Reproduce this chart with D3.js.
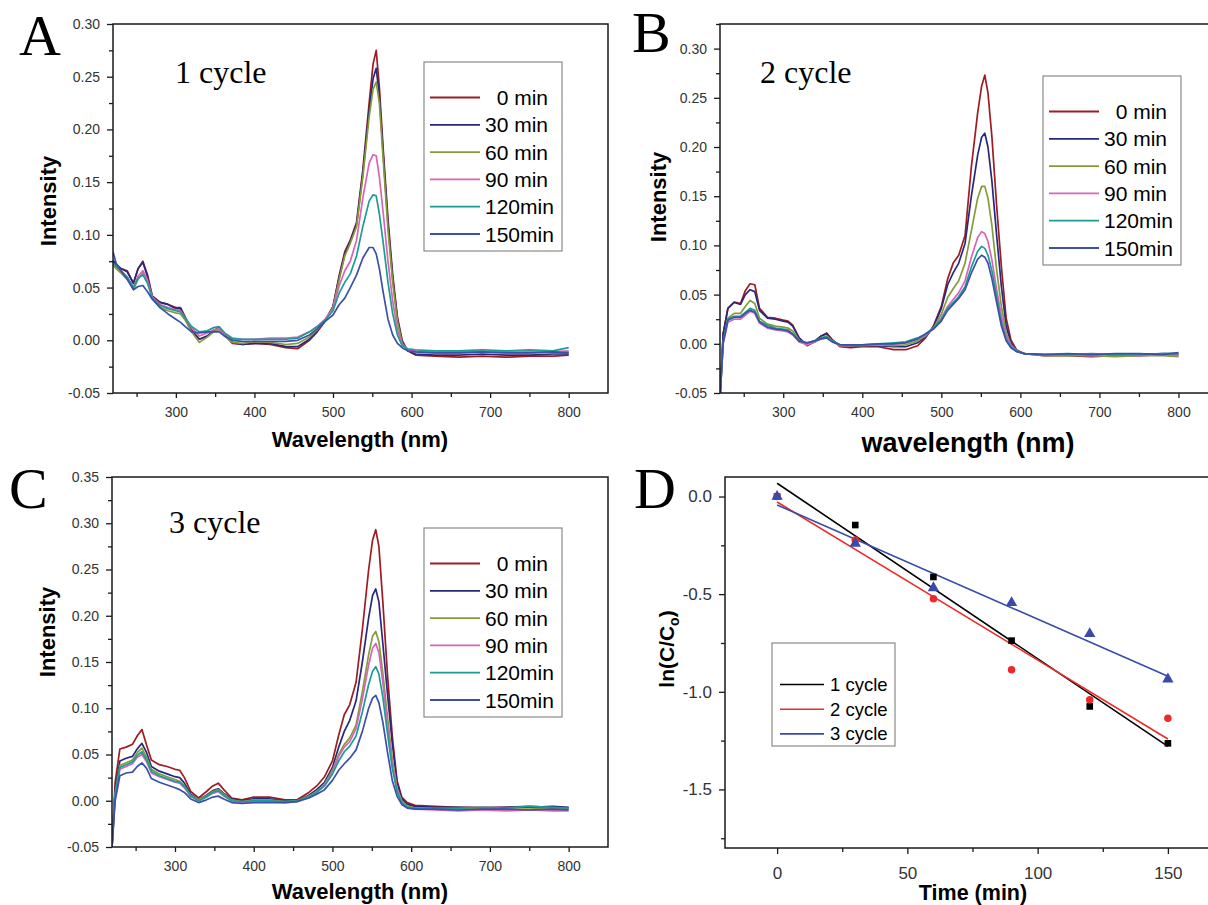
<!DOCTYPE html>
<html>
<head>
<meta charset="utf-8">
<script src="https://cdn.jsdelivr.net/npm/d3@7"></script>
<style>
body { margin: 0; background: #fff; }
svg { display: block; }
</style>
</head>
<body>
<script>
// ---- data ----
var wavelength = [220, 224, 230, 238, 246, 252, 258, 264, 270, 280, 290, 300, 306, 312, 320, 330, 340, 348, 355, 362,
  372, 385, 400, 420, 440, 455, 470, 480, 490, 500, 508, 515, 522, 530, 538, 546, 551, 555, 559, 564,
  570, 576, 582, 588, 595, 605, 630, 660, 690, 720, 750, 780, 800];

var timeLabels = ["  0 min", "30 min", "60 min", "90 min", "120min", "150min"];
var timeColors = ["#9e1c22", "#27297d", "#849b3a", "#d864b8", "#1b9c96", "#3c50a8"];

// cycle 1 (panel A)
var c1_0 = [0.075, 0.072, 0.068, 0.066, 0.054, 0.068, 0.075, 0.062, 0.042, 0.036, 0.034, 0.031, 0.031, 0.022, 0.010, 0.001, 0.004, 0.009, 0.012, 0.005,
  -0.003, -0.004, -0.003, -0.004, -0.007, -0.008, 0.000, 0.008, 0.018, 0.032, 0.062, 0.084, 0.095, 0.112, 0.162, 0.225, 0.262, 0.275, 0.240, 0.180,
  0.115, 0.062, 0.022, 0.000, -0.010, -0.014, -0.015, -0.016, -0.015, -0.016, -0.015, -0.015, -0.014];
var c1_30 = [0.076, 0.072, 0.068, 0.065, 0.054, 0.068, 0.074, 0.060, 0.041, 0.036, 0.034, 0.030, 0.030, 0.021, 0.009, 0.001, 0.004, 0.009, 0.012, 0.005,
  -0.002, -0.004, -0.003, -0.003, -0.006, -0.006, 0.001, 0.009, 0.019, 0.032, 0.060, 0.082, 0.094, 0.110, 0.158, 0.218, 0.248, 0.258, 0.232, 0.175,
  0.110, 0.058, 0.020, -0.002, -0.010, -0.013, -0.014, -0.014, -0.013, -0.014, -0.014, -0.013, -0.013];
var c1_60 = [0.071, 0.068, 0.064, 0.058, 0.048, 0.058, 0.064, 0.055, 0.040, 0.031, 0.028, 0.026, 0.025, 0.019, 0.008, -0.002, 0.003, 0.008, 0.010, 0.004,
  -0.002, -0.003, -0.001, -0.002, -0.004, -0.003, 0.003, 0.010, 0.019, 0.031, 0.058, 0.080, 0.092, 0.108, 0.155, 0.212, 0.238, 0.245, 0.225, 0.170,
  0.105, 0.055, 0.018, -0.003, -0.009, -0.011, -0.012, -0.012, -0.011, -0.012, -0.012, -0.011, -0.011];
var c1_90 = [0.073, 0.070, 0.066, 0.060, 0.050, 0.061, 0.066, 0.057, 0.041, 0.034, 0.031, 0.029, 0.028, 0.021, 0.012, 0.004, 0.007, 0.010, 0.011, 0.006,
  0.001, 0.001, 0.001, 0.002, 0.002, 0.003, 0.008, 0.013, 0.020, 0.030, 0.052, 0.066, 0.075, 0.095, 0.135, 0.168, 0.176, 0.175, 0.155, 0.120,
  0.075, 0.037, 0.010, -0.004, -0.009, -0.010, -0.011, -0.011, -0.010, -0.011, -0.010, -0.011, -0.010];
var c1_120 = [0.073, 0.070, 0.066, 0.060, 0.050, 0.059, 0.062, 0.054, 0.040, 0.033, 0.030, 0.028, 0.027, 0.021, 0.013, 0.008, 0.009, 0.012, 0.013, 0.007,
  0.002, 0.001, 0.001, 0.001, 0.001, 0.002, 0.008, 0.013, 0.019, 0.028, 0.045, 0.055, 0.063, 0.080, 0.108, 0.132, 0.138, 0.137, 0.120, 0.092,
  0.055, 0.025, 0.005, -0.005, -0.008, -0.009, -0.010, -0.010, -0.009, -0.010, -0.009, -0.010, -0.007];
var c1_150 = [0.084, 0.073, 0.066, 0.058, 0.048, 0.051, 0.052, 0.046, 0.039, 0.031, 0.025, 0.020, 0.017, 0.013, 0.008, 0.007, 0.008, 0.008, 0.008, 0.004,
  0.000, -0.001, -0.001, -0.001, -0.001, 0.000, 0.005, 0.011, 0.018, 0.024, 0.034, 0.040, 0.050, 0.062, 0.078, 0.088, 0.088, 0.082, 0.068, 0.045,
  0.020, 0.005, -0.003, -0.007, -0.010, -0.011, -0.012, -0.012, -0.011, -0.012, -0.012, -0.011, -0.012];

// cycle 2 (panel B)
var c2_0 = [-0.055, 0.010, 0.036, 0.0425, 0.041, 0.054, 0.061, 0.060, 0.036, 0.027, 0.026, 0.024, 0.023, 0.019, 0.006, -0.002, 0.002, 0.008, 0.011, 0.004,
  -0.003, -0.004, -0.003, -0.003, -0.006, -0.006, -0.002, 0.006, 0.018, 0.038, 0.066, 0.082, 0.090, 0.110, 0.180, 0.235, 0.262, 0.273, 0.255, 0.210,
  0.140, 0.078, 0.026, 0.004, -0.006, -0.010, -0.012, -0.012, -0.013, -0.012, -0.012, -0.011, -0.012];
var c2_30 = [-0.055, 0.010, 0.036, 0.042, 0.040, 0.050, 0.055, 0.053, 0.034, 0.026, 0.025, 0.023, 0.022, 0.018, 0.006, -0.001, 0.003, 0.008, 0.010, 0.004,
  -0.002, -0.003, -0.002, -0.002, -0.003, -0.003, 0.001, 0.007, 0.017, 0.036, 0.060, 0.072, 0.082, 0.102, 0.150, 0.192, 0.210, 0.214, 0.200, 0.165,
  0.110, 0.058, 0.018, 0.001, -0.007, -0.010, -0.011, -0.011, -0.012, -0.011, -0.011, -0.010, -0.010];
var c2_60 = [-0.055, 0.002, 0.026, 0.031, 0.031, 0.038, 0.044, 0.041, 0.026, 0.020, 0.018, 0.017, 0.016, 0.013, 0.004, -0.001, 0.002, 0.006, 0.008, 0.003,
  -0.002, -0.002, -0.002, -0.001, -0.002, -0.001, 0.003, 0.008, 0.016, 0.030, 0.047, 0.056, 0.064, 0.082, 0.115, 0.148, 0.160, 0.160, 0.148, 0.120,
  0.075, 0.038, 0.011, -0.001, -0.007, -0.010, -0.012, -0.012, -0.012, -0.013, -0.012, -0.012, -0.013];
var c2_90 = [-0.055, 0.000, 0.022, 0.025, 0.025, 0.029, 0.033, 0.031, 0.021, 0.016, 0.014, 0.013, 0.012, 0.009, 0.002, -0.001, 0.002, 0.005, 0.006, 0.002,
  -0.002, -0.002, -0.001, -0.001, 0.000, 0.001, 0.005, 0.009, 0.016, 0.026, 0.038, 0.045, 0.052, 0.064, 0.088, 0.108, 0.114, 0.112, 0.104, 0.085,
  0.055, 0.028, 0.008, -0.002, -0.007, -0.010, -0.011, -0.011, -0.012, -0.011, -0.012, -0.011, -0.012];
var c2_120 = [-0.055, 0.002, 0.025, 0.028, 0.028, 0.032, 0.036, 0.034, 0.023, 0.019, 0.016, 0.015, 0.014, 0.010, 0.003, 0.001, 0.003, 0.006, 0.007, 0.003,
  -0.001, -0.001, -0.001, 0.000, 0.001, 0.002, 0.006, 0.010, 0.016, 0.025, 0.036, 0.042, 0.048, 0.058, 0.078, 0.094, 0.099, 0.097, 0.090, 0.074,
  0.048, 0.022, 0.005, -0.003, -0.007, -0.010, -0.011, -0.011, -0.010, -0.011, -0.011, -0.010, -0.010];
var c2_150 = [-0.055, 0.001, 0.024, 0.027, 0.027, 0.031, 0.034, 0.032, 0.022, 0.017, 0.015, 0.014, 0.013, 0.010, 0.003, 0.001, 0.003, 0.005, 0.006, 0.002,
  -0.001, -0.001, -0.001, 0.000, 0.000, 0.001, 0.005, 0.010, 0.015, 0.023, 0.034, 0.040, 0.046, 0.055, 0.072, 0.086, 0.090, 0.088, 0.082, 0.066,
  0.042, 0.018, 0.003, -0.004, -0.008, -0.010, -0.011, -0.010, -0.011, -0.010, -0.010, -0.011, -0.009];

// cycle 3 (panel C)
var c3_0 = [-0.050, 0.020, 0.056, 0.058, 0.061, 0.070, 0.077, 0.060, 0.044, 0.039, 0.037, 0.034, 0.033, 0.025, 0.010, 0.003, 0.010, 0.016, 0.019, 0.012,
  0.003, 0.001, 0.004, 0.004, 0.001, 0.001, 0.009, 0.016, 0.026, 0.043, 0.071, 0.093, 0.104, 0.128, 0.185, 0.250, 0.282, 0.293, 0.275, 0.215,
  0.135, 0.070, 0.022, 0.004, -0.002, -0.005, -0.006, -0.007, -0.007, -0.007, -0.006, -0.007, -0.008];
var c3_30 = [-0.050, 0.012, 0.043, 0.046, 0.048, 0.056, 0.062, 0.052, 0.037, 0.032, 0.029, 0.026, 0.025, 0.019, 0.007, 0.001, 0.006, 0.011, 0.013, 0.008,
  0.002, 0.000, 0.002, 0.002, 0.000, 0.000, 0.006, 0.012, 0.020, 0.036, 0.058, 0.075, 0.087, 0.108, 0.150, 0.198, 0.222, 0.229, 0.215, 0.170,
  0.115, 0.062, 0.020, 0.002, -0.004, -0.006, -0.007, -0.007, -0.008, -0.007, -0.007, -0.006, -0.007];
var c3_60 = [-0.050, 0.008, 0.038, 0.041, 0.044, 0.052, 0.057, 0.047, 0.034, 0.029, 0.026, 0.023, 0.021, 0.016, 0.006, 0.001, 0.005, 0.010, 0.012, 0.007,
  0.001, -0.001, 0.001, 0.001, -0.001, 0.000, 0.005, 0.010, 0.018, 0.033, 0.050, 0.061, 0.068, 0.082, 0.118, 0.158, 0.178, 0.183, 0.172, 0.138,
  0.090, 0.045, 0.014, 0.000, -0.006, -0.008, -0.009, -0.009, -0.008, -0.009, -0.009, -0.008, -0.009];
var c3_90 = [-0.050, 0.005, 0.034, 0.037, 0.040, 0.047, 0.050, 0.042, 0.030, 0.026, 0.023, 0.020, 0.019, 0.014, 0.005, 0.000, 0.004, 0.008, 0.010, 0.005,
  0.000, -0.002, -0.001, -0.001, -0.002, -0.001, 0.004, 0.009, 0.017, 0.031, 0.048, 0.058, 0.064, 0.078, 0.110, 0.147, 0.165, 0.170, 0.160, 0.128,
  0.082, 0.040, 0.012, -0.001, -0.007, -0.009, -0.010, -0.011, -0.010, -0.011, -0.010, -0.011, -0.011];
var c3_120 = [-0.050, 0.006, 0.036, 0.039, 0.042, 0.049, 0.053, 0.044, 0.032, 0.027, 0.024, 0.021, 0.020, 0.015, 0.005, 0.000, 0.004, 0.009, 0.011, 0.006,
  0.000, -0.001, 0.000, 0.000, -0.001, 0.000, 0.004, 0.009, 0.016, 0.029, 0.043, 0.053, 0.059, 0.070, 0.096, 0.126, 0.140, 0.145, 0.137, 0.112,
  0.072, 0.035, 0.010, -0.002, -0.007, -0.008, -0.008, -0.008, -0.007, -0.008, -0.006, -0.007, -0.008];
var c3_150 = [-0.050, 0.000, 0.027, 0.030, 0.031, 0.037, 0.041, 0.035, 0.024, 0.020, 0.017, 0.014, 0.012, 0.009, 0.002, -0.002, 0.001, 0.004, 0.005, 0.002,
  -0.002, -0.003, -0.002, -0.002, -0.002, -0.001, 0.003, 0.007, 0.012, 0.022, 0.033, 0.040, 0.046, 0.055, 0.075, 0.100, 0.111, 0.114, 0.106, 0.085,
  0.052, 0.022, 0.005, -0.004, -0.008, -0.009, -0.009, -0.010, -0.009, -0.009, -0.010, -0.009, -0.010];

// kinetics (panel D)
var times = [0, 30, 60, 90, 120, 150];
var lnCycle1 = [0, -0.146, -0.412, -0.738, -1.075, -1.264];
var lnCycle2 = [0, -0.223, -0.523, -0.887, -1.041, -1.136];
var lnCycle3 = [0, -0.240, -0.468, -0.544, -0.703, -0.935];
var cycleLabels = ["1 cycle", "2 cycle", "3 cycle"];
var cycleColors = ["#000000", "#ec2a2a", "#3a4aa8"];

// tick values
var wlTicks = [300, 400, 500, 600, 700, 800];
var wlMinor = [250, 350, 450, 550, 650, 750];
var timeTicks = [0, 50, 100, 150];
var timeMinor = [25, 75, 125];
var lnTicks = [0, -0.5, -1.0, -1.5];
var lnMinor = [-0.25, -0.75, -1.25, -1.75];

var sansFont = "'Liberation Sans', Arial, sans-serif";
var serifFont = "'Liberation Serif', 'Times New Roman', serif";

var svg = d3.select("body").append("svg")
  .attr("width", 1208)
  .attr("height", 905);

function styleTicks(g, size) {
  g.select(".domain").remove();
  g.selectAll(".tick line").attr("stroke", "#1a1a1a").attr("stroke-width", 1.3);
  g.selectAll(".tick text")
    .attr("fill", "#333")
    .style("font-family", sansFont)
    .style("font-size", size + "px");
}

function drawSpectrum(p) {
  var x = d3.scaleLinear().domain([220, 850]).range([p.left, p.right]);
  var y = d3.scaleLinear().domain([-0.05, p.yMax]).range([p.bottom, p.top]);
  var yTicks = d3.range(-0.05, p.yMax + 0.001, 0.05).map(function(d){ return +d.toFixed(2); });
  var yMinor = d3.range(-0.025, p.yMax + 0.001, 0.05).map(function(d){ return +d.toFixed(3); });

  var clipId = "clip" + p.letter;
  svg.append("clipPath").attr("id", clipId)
    .append("rect")
    .attr("x", p.left).attr("y", p.top)
    .attr("width", p.right - p.left).attr("height", p.bottom - p.top);

  //spectra
  var line = d3.line()
    .x(function(d, i){ return x(wavelength[i]); })
    .y(function(d){ return y(d); });
  svg.append("g").attr("clip-path", "url(#" + clipId + ")")
    .selectAll("path")
    .data(p.series)
    .enter().append("path")
      .attr("d", line)
      .attr("fill", "none")
      .attr("stroke", function(d, i){ return timeColors[i]; })
      .attr("stroke-width", 1.7)
      .attr("stroke-linejoin", "round");

  //axes
  var gx = svg.append("g").attr("transform", "translate(0," + p.bottom + ")")
    .call(d3.axisBottom(x).tickValues(wlTicks).tickSize(5).tickPadding(9).tickFormat(d3.format("d")));
  styleTicks(gx, 14);
  var gxm = svg.append("g").attr("transform", "translate(0," + p.bottom + ")")
    .call(d3.axisBottom(x).tickValues(wlMinor).tickSize(4).tickFormat(""));
  styleTicks(gxm, 14);
  var gy = svg.append("g").attr("transform", "translate(" + p.left + ",0)")
    .call(d3.axisLeft(y).tickValues(yTicks).tickSize(6).tickPadding(7)
      .tickFormat(function(d){ return d.toFixed(2); }));
  styleTicks(gy, 14);
  var gym = svg.append("g").attr("transform", "translate(" + p.left + ",0)")
    .call(d3.axisLeft(y).tickValues(yMinor).tickSize(4).tickFormat(""));
  styleTicks(gym, 14);

  svg.append("rect")
    .attr("x", p.left).attr("y", p.top)
    .attr("width", p.right - p.left).attr("height", p.bottom - p.top)
    .attr("fill", "none").attr("stroke", "#1a1a1a").attr("stroke-width", 1.5);

  //labels
  svg.append("text")
    .attr("x", p.xLabelX).attr("y", p.xLabelY)
    .attr("text-anchor", "middle")
    .style("font-family", sansFont).style("font-weight", "bold")
    .style("font-size", p.xLabelSize + "px")
    .text(p.xLabel);
  svg.append("text")
    .attr("transform", "translate(" + p.yLabelX + "," + p.yLabelY + ") rotate(-90)")
    .attr("text-anchor", "middle")
    .style("font-family", sansFont).style("font-weight", "bold")
    .style("font-size", "22px")
    .text("Intensity");
  svg.append("text")
    .attr("x", p.letterX).attr("y", p.letterY)
    .style("font-family", serifFont).style("font-size", "58px")
    .text(p.letter);
  svg.append("text")
    .attr("x", p.cycleX).attr("y", p.cycleY)
    .style("font-family", serifFont).style("font-size", "32px")
    .text(p.cycle);

  //legend
  var lg = svg.append("g");
  lg.append("rect")
    .attr("x", p.legX).attr("y", p.legY)
    .attr("width", 138).attr("height", 189)
    .attr("fill", "#fff").attr("stroke", "#8a8a8a").attr("stroke-width", 1.2);
  var rows = lg.selectAll("g.row")
    .data(timeLabels)
    .enter().append("g")
      .attr("class", "row")
      .attr("transform", function(d, i){ return "translate(" + p.legX + "," + (p.legY + 35.5 + i * 27.3) + ")"; });
  rows.append("line")
    .attr("x1", 6).attr("x2", 56)
    .attr("stroke", function(d, i){ return timeColors[i]; })
    .attr("stroke-width", 1.8);
  rows.append("text")
    .attr("x", 61).attr("y", 7.5)
    .style("font-family", sansFont).style("font-size", "21px")
    .style("white-space", "pre")
    .text(function(d){ return d; });
}

drawSpectrum({
  letter: "A", left: 113, right: 608, top: 24, bottom: 393, yMax: 0.30,
  series: [c1_0, c1_30, c1_60, c1_90, c1_120, c1_150],
  xLabel: "Wavelength (nm)", xLabelX: 360, xLabelY: 447, xLabelSize: 22,
  yLabelX: 56, yLabelY: 201,
  letterX: 19, letterY: 55, cycle: "1 cycle", cycleX: 175, cycleY: 83,
  legX: 424, legY: 62
});
drawSpectrum({
  letter: "B", left: 720, right: 1218, top: 24, bottom: 393, yMax: 0.325,
  series: [c2_0, c2_30, c2_60, c2_90, c2_120, c2_150],
  xLabel: "wavelength (nm)", xLabelX: 968, xLabelY: 452, xLabelSize: 27,
  yLabelX: 666, yLabelY: 197,
  letterX: 632, letterY: 52, cycle: "2 cycle", cycleX: 760, cycleY: 83,
  legX: 1043, legY: 76
});
drawSpectrum({
  letter: "C", left: 112, right: 608, top: 477, bottom: 847, yMax: 0.35,
  series: [c3_0, c3_30, c3_60, c3_90, c3_120, c3_150],
  xLabel: "Wavelength (nm)", xLabelX: 360, xLabelY: 899, xLabelSize: 22,
  yLabelX: 55, yLabelY: 632,
  letterX: 9, letterY: 508, cycle: "3 cycle", cycleX: 169, cycleY: 533,
  legX: 424, legY: 528
});

// ---- panel D ----
(function(){
  var left = 725, right = 1220, top = 477, bottom = 848;
  var x = d3.scaleLinear().domain([-20, 170]).range([left, right]);
  var y = d3.scaleLinear().domain([-1.8, 0.1]).range([bottom, top]);

  //least squares line through each cycle's points
  function fit(xs, ys) {
    var mx = d3.mean(xs), my = d3.mean(ys);
    var sxy = d3.sum(xs, function(v, i){ return (v - mx) * (ys[i] - my); });
    var sxx = d3.sum(xs, function(v){ return (v - mx) * (v - mx); });
    var b = sxy / sxx;
    return { a: my - b * mx, b: b };
  }

  var sets = [lnCycle1, lnCycle2, lnCycle3];
  var shapes = [d3.symbolSquare, d3.symbolCircle, d3.symbolTriangle];
  var sizes = [44, 44, 56];

  sets.forEach(function(vals, k){
    var f = fit(times, vals);
    var t0 = times[0], t1 = times[times.length - 1];
    svg.append("line")
      .attr("x1", x(t0)).attr("y1", y(f.a + f.b * t0))
      .attr("x2", x(t1)).attr("y2", y(f.a + f.b * t1))
      .attr("stroke", cycleColors[k]).attr("stroke-width", 1.6);
  });
  sets.forEach(function(vals, k){
    svg.append("g").selectAll("path")
      .data(vals)
      .enter().append("path")
        .attr("transform", function(d, i){ return "translate(" + x(times[i]) + "," + y(d) + ")"; })
        .attr("d", d3.symbol().type(shapes[k]).size(sizes[k]))
        .attr("fill", cycleColors[k]);
  });

  var gx = svg.append("g").attr("transform", "translate(0," + bottom + ")")
    .call(d3.axisBottom(x).tickValues(timeTicks).tickSize(6).tickPadding(13).tickFormat(d3.format("d")));
  styleTicks(gx, 17);
  var gxm = svg.append("g").attr("transform", "translate(0," + bottom + ")")
    .call(d3.axisBottom(x).tickValues(timeMinor).tickSize(4).tickFormat(""));
  styleTicks(gxm, 17);
  var gy = svg.append("g").attr("transform", "translate(" + left + ",0)")
    .call(d3.axisLeft(y).tickValues(lnTicks).tickSize(6).tickPadding(7)
      .tickFormat(function(d){ return d.toFixed(1); }));
  styleTicks(gy, 17);
  var gym = svg.append("g").attr("transform", "translate(" + left + ",0)")
    .call(d3.axisLeft(y).tickValues(lnMinor).tickSize(4).tickFormat(""));
  styleTicks(gym, 17);

  svg.append("rect")
    .attr("x", left).attr("y", top)
    .attr("width", right - left).attr("height", bottom - top)
    .attr("fill", "none").attr("stroke", "#1a1a1a").attr("stroke-width", 1.5);

  svg.append("text")
    .attr("x", 973).attr("y", 900)
    .attr("text-anchor", "middle")
    .style("font-family", sansFont).style("font-weight", "bold").style("font-size", "21.5px")
    .text("Time (min)");
  var yl = svg.append("text")
    .attr("transform", "translate(674,649) rotate(-90)")
    .attr("text-anchor", "middle")
    .style("font-family", sansFont).style("font-weight", "bold").style("font-size", "21px");
  yl.append("tspan").text("ln(C/C");
  yl.append("tspan").attr("dy", 5).style("font-size", "14px").text("o");
  yl.append("tspan").attr("dy", -5).text(")");

  svg.append("text")
    .attr("x", 634).attr("y", 508)
    .style("font-family", serifFont).style("font-size", "58px")
    .text("D");

  var lg = svg.append("g");
  lg.append("rect")
    .attr("x", 772).attr("y", 643).attr("width", 123).attr("height", 103)
    .attr("fill", "#fff").attr("stroke", "#8a8a8a").attr("stroke-width", 1.2);
  var rows = lg.selectAll("g.row")
    .data(cycleLabels)
    .enter().append("g")
      .attr("class", "row")
      .attr("transform", function(d, i){ return "translate(772," + (684.5 + i * 24.7) + ")"; });
  rows.append("line")
    .attr("x1", 8).attr("x2", 52)
    .attr("stroke", function(d, i){ return cycleColors[i]; })
    .attr("stroke-width", 1.6);
  rows.append("text")
    .attr("x", 58).attr("y", 6.5)
    .style("font-family", sansFont).style("font-size", "18.5px")
    .text(function(d){ return d; });
})();
</script>
</body>
</html>
